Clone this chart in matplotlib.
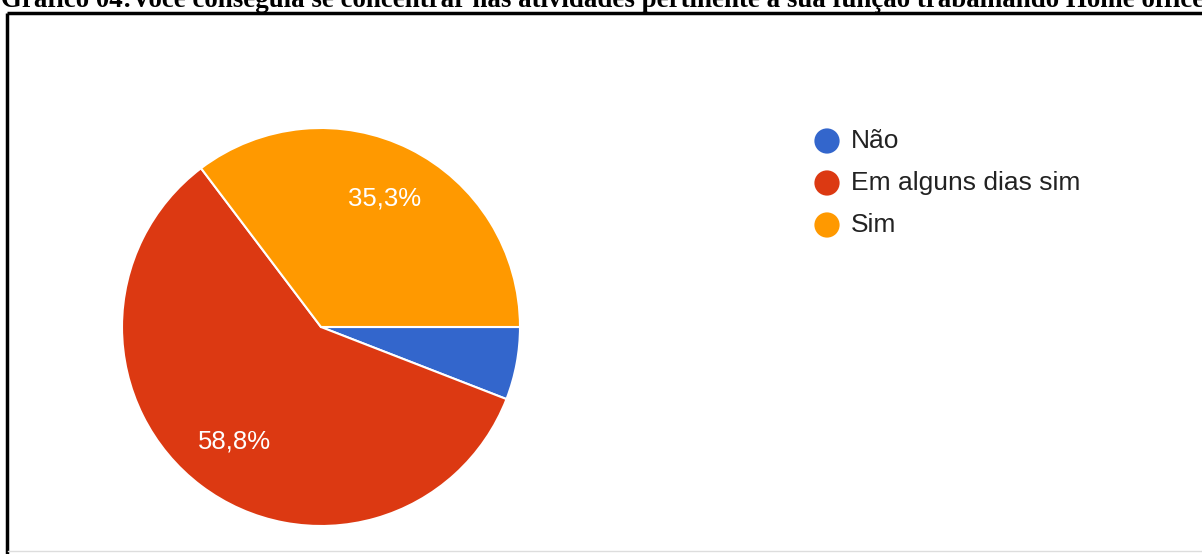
import matplotlib
matplotlib.use("Agg")
import matplotlib.pyplot as plt

# respostas (% do total)
labels = ["Não", "Em alguns dias sim", "Sim"]
values = [5.9, 58.8, 35.3]
colors = ["#3366cc", "#dc3912", "#ff9900"]

title = "Gráfico 04:Você conseguia se concentrar nas atividades pertinente à sua função trabalhando Home office"

W, H = 1202, 554
fig = plt.figure(figsize=(W / 100, H / 100), dpi=100)
ax = fig.add_axes([0, 0, 1, 1])


def fmt_pct(p):
  # fatias pequenas ficam sem rotulo
  if p < 10:
    return ""
  return ("%.1f%%" % p).replace(".", ",")


wedges, texts, autotexts = ax.pie(
  values, colors=colors, startangle=0, counterclock=False,
  center=(321, H - 327), radius=199,
  autopct=fmt_pct, pctdistance=0.72,
  wedgeprops=dict(edgecolor="white", linewidth=1.5),
  textprops=dict(color="white", fontsize=18.5, family="Liberation Sans"),
)

ax.set_xlim(0, W)
ax.set_ylim(0, H)
ax.set_aspect("auto")
ax.axis("off")

# legenda
for i, (lab, c) in enumerate(zip(labels, colors)):
  y = H - (141 + i * 42)
  ax.scatter([827], [y], s=330, color=c, edgecolors="none")
  ax.text(851, y, lab, fontsize=19, color="#222222", va="center", ha="left",
          family="Liberation Sans")

# moldura
ax.plot([7, W], [H - 13, H - 13], color="black", lw=2.5, solid_capstyle="butt")
ax.plot([7, 7], [0, H - 13], color="black", lw=2.5, solid_capstyle="butt")
ax.plot([8, W], [3, 3], color="#dddddd", lw=1)

fig.text(1 / W, 1 - 7 / H, title, fontsize=19.4, fontweight="bold",
         family="Liberation Serif", ha="left", va="baseline", color="black")

fig.savefig("out.png", dpi=100)
